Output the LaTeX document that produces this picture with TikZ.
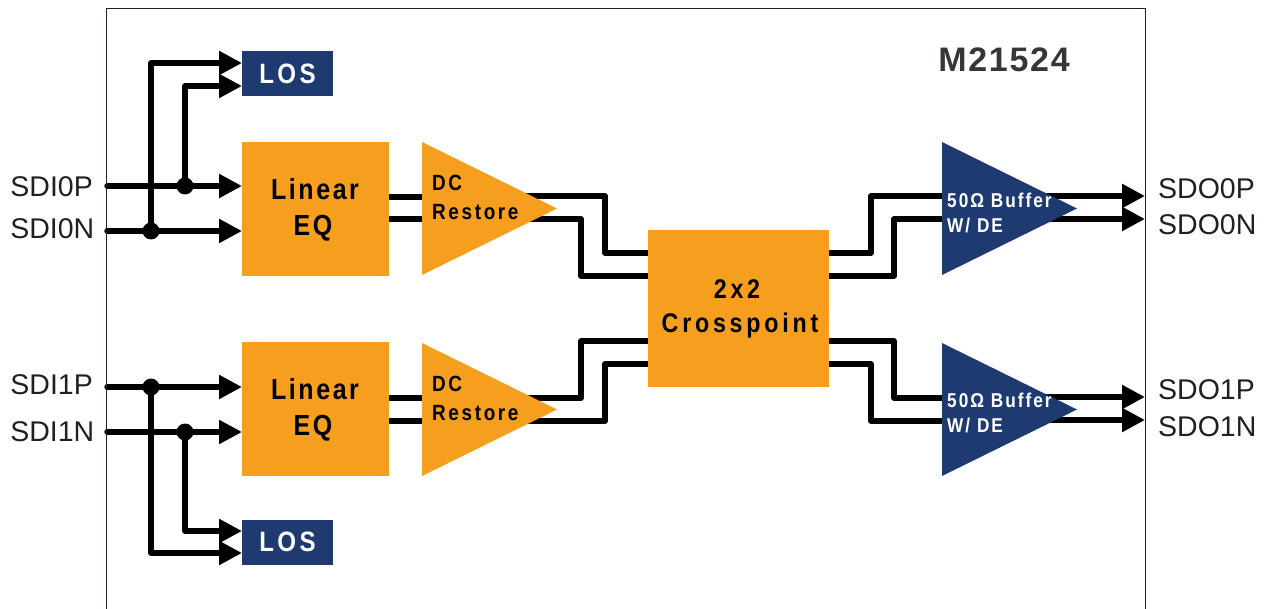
\documentclass[tikz,border=0pt]{standalone}
\usepackage{fontspec}
\setmainfont{Liberation Sans}
\usetikzlibrary{arrows.meta,shapes.geometric,backgrounds}
\definecolor{ambr}{HTML}{F69E1E}
\definecolor{navy}{HTML}{1E3A70}
\definecolor{ink}{HTML}{231F20}
\newfontfamily\narrowbold[FakeStretch=0.86]{Liberation Sans Bold}
\newcommand{\spaced}[2]{\narrowbold\fontsize{#1}{#1}\selectfont\addfontfeature{LetterSpace=#2}}
\tikzset{
  block/.style={rectangle,fill=ambr,inner sep=0pt,outer sep=0pt},
  losbox/.style={rectangle,fill=navy,inner sep=0pt,outer sep=0pt,minimum width=91pt,minimum height=45pt,text=white,font=\spaced{28}{12}},
  amp/.style={isosceles triangle,isosceles triangle apex angle=60,isosceles triangle stretches,inner sep=0pt,outer sep=0pt,minimum width=133pt,minimum height=135pt,anchor=apex},
  ampo/.style={amp,fill=ambr},
  ampn/.style={amp,fill=navy},
  pin/.style={inner sep=0pt,text=ink,font=\fontsize{28.5}{28.5}\selectfont},
  eqtxt/.style={inner sep=0pt,align=center,text=black,font=\spaced{29}{9}},
  dctxt/.style={inner sep=0pt,anchor=west,text=black,font=\spaced{22}{12}},
  buftxt/.style={inner sep=0pt,anchor=west,text=white,font=\spaced{20}{10}},
  wire/.style={line width=5.4pt,line join=round,line cap=round,draw=black},
  arr/.style={wire,-{Triangle[length=23pt,width=23pt]}},
  dot/.style={circle,fill=black,inner sep=0pt,minimum size=17pt}
}
\begin{document}
\begin{tikzpicture}[x=1pt,y=-1pt]
\useasboundingbox (0,0) rectangle (1268,609);
\draw[line width=1.6pt,draw=ink] (106.5,609) -- (106.5,8.5) -- (1145.5,8.5) -- (1145.5,609);
\node[anchor=center,inner sep=0pt,text=ink!90,font=\fontsize{34}{34}\selectfont\bfseries\addfontfeature{LetterSpace=5}] (title) at (1004,60) {M21524};
% blocks
\node[losbox] (los1) at (287.5,74) {LOS};
\node[losbox] (los2) at (287.5,542) {LOS};
\node[block,minimum width=147pt,minimum height=134pt] (eq1) at (315.5,209) {};
\node[block,minimum width=147pt,minimum height=134pt] (eq2) at (315.5,409) {};
\node[eqtxt] (eq1t) at (315,209.5) {Linear\\[7pt]\hspace*{-4pt}EQ};
\node[eqtxt] (eq2t) at (315,409.5) {Linear\\[7pt]\hspace*{-4pt}EQ};
\node[ampo] (tri1) at (557,208.5) {};
\node[ampo] (tri2) at (557,409.5) {};
\node[dctxt] (dc1) at (432,183) {DC};
\node[dctxt] (re1) at (432,212) {Restore};
\node[dctxt] (dc2) at (432,384) {DC};
\node[dctxt] (re2) at (432,413) {Restore};
\node[block,minimum width=181pt,minimum height=157pt] (xp) at (738.5,308.5) {};
\node[inner sep=0pt,align=center,text=black,font=\spaced{27}{14}] (xpt) at (740,309) {\hspace*{-6pt}2x2\\[7pt]Crosspoint};
\node[ampn] (buf1) at (1077,208.5) {};
\node[ampn] (buf2) at (1077,409.5) {};
\node[buftxt] (b1a) at (947,200) {50Ω Buffer};
\node[buftxt] (b1b) at (947,225) {W/ DE};
\node[buftxt] (b2a) at (947,400) {50Ω Buffer};
\node[buftxt] (b2b) at (947,425) {W/ DE};
% pin labels
\node[pin,anchor=east] (li0p) at (93,187) {SDI0P};
\node[pin,anchor=east] (li0n) at (94.5,229) {SDI0N};
\node[pin,anchor=east] (li1p) at (93,385) {SDI1P};
\node[pin,anchor=east] (li1n) at (94.5,432) {SDI1N};
\node[pin,anchor=west] (lo0p) at (1158,189) {SDO0P};
\node[pin,anchor=west] (lo0n) at (1158,225) {SDO0N};
\node[pin,anchor=west] (lo1p) at (1158,390) {SDO1P};
\node[pin,anchor=west] (lo1n) at (1158,427) {SDO1N};
% free ends
\coordinate (i0p) at (107,186);
\coordinate (i0n) at (107,231);
\coordinate (i1p) at (107,387);
\coordinate (i1n) at (107,432);
\coordinate (o0p) at (1145,196);
\coordinate (o0n) at (1145,219);
\coordinate (o1p) at (1145,397);
\coordinate (o1n) at (1145,420);
% junctions
\node[dot] (j0p) at (185,186) {};
\node[dot] (j0n) at (151,231) {};
\node[dot] (j1p) at (151,387) {};
\node[dot] (j1n) at (185,432) {};
\begin{pgfonlayer}{background}
\draw[arr] (i0p) -- (eq1.west |- i0p);
\draw[arr] (i0n) -- (eq1.west |- i0n);
\draw[arr] (i1p) -- (eq2.west |- i1p);
\draw[arr] (i1n) -- (eq2.west |- i1n);
\draw[arr] (j0n) |- (los1.west |- 0,63);
\draw[arr] (j0p) |- (los1.west |- 0,86);
\draw[arr] (j1n) |- (los2.west |- 0,531);
\draw[arr] (j1p) |- (los2.west |- 0,553);
\draw[wire] (eq1.east |- 0,197) -- (tri1.center |- 0,197);
\draw[wire] (eq1.east |- 0,219) -- (tri1.center |- 0,219);
\draw[wire] (eq2.east |- 0,398) -- (tri2.center |- 0,398);
\draw[wire] (eq2.east |- 0,421) -- (tri2.center |- 0,421);
\draw[wire] (tri1.center |- 0,196) -- (605,196) -- (605,253) -- (xp.west |- 0,253);
\draw[wire] (tri1.center |- 0,219) -- (581,219) -- (581,276) -- (xp.west |- 0,276);
\draw[wire] (tri2.center |- 0,398) -- (581,398) -- (581,341) -- (xp.west |- 0,341);
\draw[wire] (tri2.center |- 0,421) -- (605,421) -- (605,364) -- (xp.west |- 0,364);
\draw[wire] (xp.east |- 0,253) -- (871,253) -- (871,196) -- (buf1.center |- 0,196);
\draw[wire] (xp.east |- 0,276) -- (894,276) -- (894,219) -- (buf1.center |- 0,219);
\draw[wire] (xp.east |- 0,341) -- (894,341) -- (894,398) -- (buf2.center |- 0,398);
\draw[wire] (xp.east |- 0,364) -- (871,364) -- (871,421) -- (buf2.center |- 0,421);
\draw[arr] (buf1.center |- o0p) -- (o0p);
\draw[arr] (buf1.center |- o0n) -- (o0n);
\draw[arr] (buf2.center |- o1p) -- (o1p);
\draw[arr] (buf2.center |- o1n) -- (o1n);
\end{pgfonlayer}
\end{tikzpicture}
\end{document}
